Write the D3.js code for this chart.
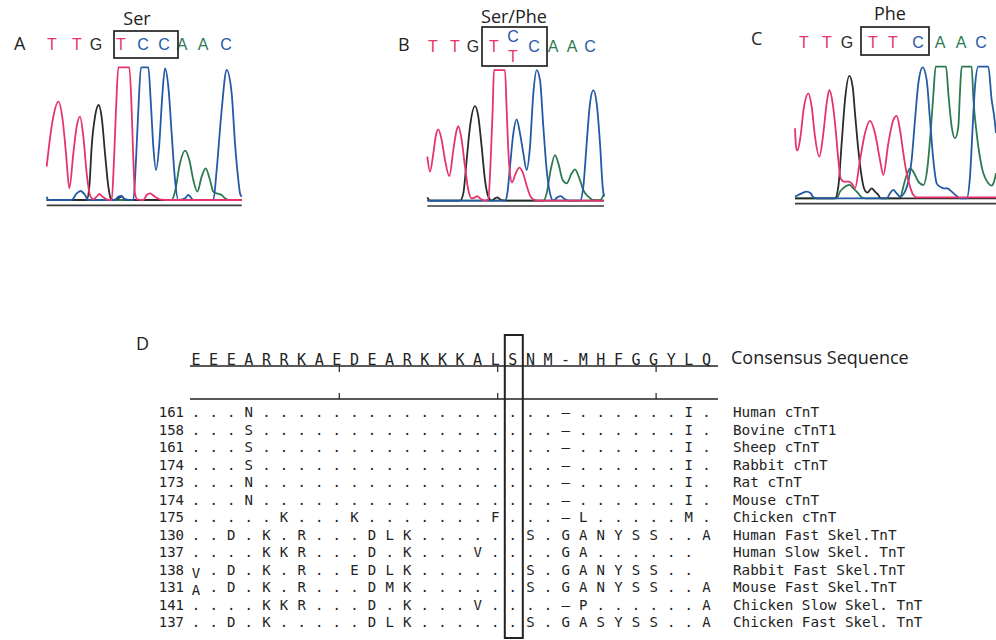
<!DOCTYPE html>
<html><head><meta charset="utf-8">
<script src="https://cdn.jsdelivr.net/npm/d3@7"></script>
<style>body{margin:0;background:#fff}</style>
</head><body>
<svg id="c" width="996" height="640"></svg>
<script>
// ---------------- DATA ----------------
const panelLabels = ["A", "B", "C", "D"];
const codonLabels = ["Ser", "Ser/Phe", "Phe"];
const baseCallsA = ["T","T","G","T","C","C","A","A","C"];
const baseScanA  = [36,111,168,243,309,372,426,489,558];
const baseCallsB = ["T","T","G","T","C/T","C","A","A","C"];
const baseScanB  = [39,105,159,222,279,342,399,456,510];
const baseCallsC = ["T","T","G","T","T","C","A","A","C"];
const baseScanC  = [42,111,171,249,309,384,450,513,573];
const boxedCalls = [3, 5];

// traces: [scan, signal]
const traceA_T = [[20,100],[28,170],[40,250],[55,295],[68,240],[78,140],[88,35],[100,140],[110,220],[120,250],[130,190],[140,80],[150,15],[160,2],[170,10],[178,18],[188,10],[200,2],[215,0],[222,120],[228,270],[235,398],[268,398],[275,270],[280,120],[285,20],[292,2],[310,0],[320,15],[330,20],[345,10],[360,2],[380,0],[605,0]];
const traceA_G = [[20,0],[140,0],[148,40],[155,160],[165,250],[176,285],[186,240],[195,140],[205,40],[212,5],[220,0],[235,5],[245,10],[255,2],[270,0],[605,0]];
const traceA_C = [[20,10],[25,0],[95,0],[110,20],[122,27],[135,15],[145,0],[225,0],[235,10],[245,12],[255,2],[280,0],[288,120],[295,270],[303,398],[325,398],[332,300],[340,160],[348,90],[358,170],[366,300],[375,395],[385,340],[395,200],[405,60],[415,0],[435,5],[445,15],[460,0],[520,0],[530,90],[545,270],[560,390],[575,320],[585,170],[595,60],[600,20],[605,10]];
const traceA_A = [[20,0],[395,0],[405,25],[420,110],[435,148],[448,120],[460,60],[472,25],[485,70],[497,95],[510,60],[520,25],[530,20],[545,15],[555,5],[565,0],[605,0]];

const traceB_T = [[22,132],[30,87],[40,142],[48,197],[55,214],[65,182],[75,122],[88,74],[100,152],[110,212],[115,224],[125,182],[135,102],[145,32],[155,7],[165,10],[172,14],[180,7],[195,0],[205,5],[212,122],[218,272],[222,392],[255,392],[260,272],[265,150],[270,80],[276,55],[287,82],[298,99],[310,80],[320,45],[332,12],[345,2],[360,0],[552,0]];
const traceB_G = [[22,10],[30,0],[120,0],[130,22],[140,122],[150,222],[165,284],[175,252],[185,162],[195,62],[205,12],[215,0],[225,7],[232,10],[240,4],[255,0],[552,0]];
const traceB_C = [[22,0],[255,0],[262,22],[270,102],[280,202],[290,244],[300,202],[310,142],[320,92],[330,162],[340,322],[350,392],[360,362],[370,222],[380,92],[390,22],[400,0],[412,10],[422,14],[435,4],[450,0],[480,0],[490,42],[500,172],[510,292],[520,332],[530,292],[540,172],[548,42],[552,12]];
const traceB_A = [[22,0],[370,0],[380,22],[392,92],[405,137],[415,112],[428,62],[440,52],[455,82],[465,94],[478,67],[490,32],[505,12],[520,2],[540,2],[552,20]];

const traceC_T = [[15,210],[18,155],[22,143],[30,175],[42,275],[55,315],[65,275],[75,185],[88,125],[100,195],[110,285],[118,325],[128,285],[138,195],[145,115],[152,60],[162,50],[175,50],[185,45],[195,30],[210,115],[225,195],[240,232],[255,195],[270,115],[280,70],[295,165],[310,235],[320,247],[330,205],[340,135],[350,75],[360,35],[370,10],[380,3],[618,3]];
const traceC_G = [[15,0],[135,0],[145,35],[155,165],[165,295],[178,367],[188,335],[195,255],[205,145],[212,85],[222,30],[232,17],[245,30],[255,20],[265,10],[272,0],[618,0]];
const traceC_C = [[15,5],[25,10],[35,15],[50,20],[62,15],[70,3],[80,0],[290,0],[300,15],[310,25],[320,15],[330,5],[345,20],[365,115],[375,235],[385,345],[398,393],[410,355],[420,235],[430,115],[440,45],[450,35],[462,30],[472,30],[485,20],[500,7],[510,0],[530,0],[540,65],[548,215],[555,335],[565,395],[595,395],[605,295],[612,250],[618,196]];
const traceC_A = [[15,0],[140,0],[150,20],[165,35],[178,40],[190,30],[205,15],[215,3],[225,0],[330,0],[340,35],[350,70],[360,90],[370,80],[385,50],[400,40],[412,90],[422,200],[430,310],[437,395],[468,395],[475,315],[485,215],[495,180],[505,215],[510,320],[515,395],[545,395],[550,300],[560,195],[575,95],[595,45],[605,38],[612,50],[618,75]];

// alignment
const consensus = "EEEARRKAEDEARKKKALSNM-MHFGGYLQ".split("");
const rowNumbers = [161,158,161,174,173,174,175,130,137,138,131,141,137];
const rowSpecies = ["Human cTnT","Bovine cTnT1","Sheep cTnT","Rabbit cTnT","Rat cTnT","Mouse cTnT","Chicken cTnT","Human Fast Skel.TnT","Human Slow Skel. TnT","Rabbit Fast Skel.TnT","Mouse Fast Skel.TnT","Chicken Slow Skel. TnT","Chicken Fast Skel. TnT"];
const rowSeqs = [
  "...N.................-......I.",
  "...S.................-......I.",
  "...S.................-......I.",
  "...S.................-......I.",
  "...N.................-......I.",
  "...N.................-......I.",
  ".....K...K.......F...-L.....M.",
  "..D.K.R...DLK......S.GANYSS..A",
  "....KKR...D.K...V....GA...... ",
  "V.D.K.R..EDLK......S.GANYSS.. ",
  "A.D.K.R...DMK......S.GANYSS..A",
  "....KKR...D.K...V....-P......A",
  "..D.K.....DLK......S.GASYSS..A"
];
const rulerTicks = [9, 18, 27];
const highlightCol = 19;

// ---------------- STYLE / LAYOUT ----------------
const baseColor = {T: "#e6336b", C: "#2459a6", G: "#2a2a2a", A: "#2c7a50"};
const svg = d3.select("#c");
const sans = "'Open Sans', 'Liberation Sans', sans-serif";
const mono = "'DejaVu Sans Mono', monospace";
const narrow = "'Liberation Sans Narrow', 'Liberation Sans', sans-serif";

const panels = [
  {label: panelLabels[0], lx: 14, ly: 50, ox: 40, base: 200, x0: 20, x1: 605, calls: baseCallsA, scans: baseScanA,
   traces: {T: traceA_T, G: traceA_G, C: traceA_C, A: traceA_A}, callY: 50, box: [-7, 14, 31, 58], codon: codonLabels[0], cx: 137, cy: 25},
  {label: panelLabels[1], lx: 398, ly: 51, ox: 420, base: 200.7, x0: 22, x1: 552, calls: baseCallsB, scans: baseScanB,
   traces: {T: traceB_T, G: traceB_G, C: traceB_C, A: traceB_A}, callY: 52, box: [-12, 13, 27, 66], codon: codonLabels[1], cx: 514, cy: 23},
  {label: panelLabels[2], lx: 751, ly: 45, ox: 790, base: 198.3, x0: 15, x1: 618, calls: baseCallsC, scans: baseScanC,
   traces: {T: traceC_T, G: traceC_G, C: traceC_C, A: traceC_A}, callY: 48, box: [-12, 11, 27, 55], codon: codonLabels[2], cx: 890, cy: 20}
];

panels.forEach(p => {
  const x = d3.scaleLinear().domain([0, 300]).range([p.ox, p.ox + 100]);
  const y = d3.scaleLinear().domain([0, 300]).range([p.base, p.base - 100]);
  const g = svg.append("g");
  g.append("text").attr("x", p.lx).attr("y", p.ly).text(p.label)
    .attr("font-family", sans).attr("font-size", 18).attr("fill", "#222");
  g.append("line").attr("x1", x(p.x0)).attr("x2", x(p.x1))
    .attr("y1", p.base + 5.3).attr("y2", p.base + 5.3)
    .attr("stroke", "#3a3a3a").attr("stroke-width", 1.7);
  const line = d3.line().x(d => x(d[0])).y(d => y(d[1])).curve(d3.curveMonotoneX);
  ["A", "G", "C", "T"].forEach(b => {
    g.append("path").attr("d", line(p.traces[b])).attr("fill", "none")
      .attr("stroke", baseColor[b]).attr("stroke-width", 1.8).attr("stroke-linejoin", "round");
  });
  p.calls.forEach((c, i) => {
    const cxp = x(p.scans[i]);
    if (c.includes("/")) {
      const [top, bot] = c.split("/");
      g.append("text").attr("x", cxp).attr("y", p.callY - 10).text(top).attr("text-anchor", "middle")
        .attr("font-family", narrow).attr("font-size", 16).attr("fill", baseColor[top]);
      g.append("text").attr("x", cxp).attr("y", p.callY + 10).text(bot).attr("text-anchor", "middle")
        .attr("font-family", narrow).attr("font-size", 16).attr("fill", baseColor[bot]);
    } else {
      g.append("text").attr("x", cxp).attr("y", p.callY).text(c).attr("text-anchor", "middle")
        .attr("font-family", narrow).attr("font-size", 16).attr("fill", baseColor[c]);
    }
  });
  const bx0 = x(p.scans[boxedCalls[0]]) + p.box[0];
  const bx1 = x(p.scans[boxedCalls[1]]) + p.box[1];
  g.append("rect").attr("x", bx0).attr("y", p.box[2]).attr("width", bx1 - bx0).attr("height", p.box[3] - p.box[2])
    .attr("fill", "none").attr("stroke", "#222").attr("stroke-width", 1.7);
  g.append("text").attr("x", p.cx).attr("y", p.cy).text(p.codon).attr("text-anchor", "middle")
    .attr("font-family", sans).attr("font-size", 18).attr("fill", "#222");
});

// ---------------- ALIGNMENT (D) ----------------
const col = d3.scalePoint().domain(d3.range(1, 31)).range([196, 706.4]);
const row = d3.scalePoint().domain(d3.range(rowSeqs.length)).range([417, 627]);
const gd = svg.append("g");
gd.append("text").attr("x", 136).attr("y", 350).text(panelLabels[3])
  .attr("font-family", sans).attr("font-size", 18).attr("fill", "#222");

const ruleTop = 366, ruleBot = 399;
gd.append("line").attr("x1", 190).attr("x2", 718).attr("y1", ruleTop).attr("y2", ruleTop).attr("stroke", "#222").attr("stroke-width", 1.4);
gd.append("line").attr("x1", 190).attr("x2", 718).attr("y1", ruleBot).attr("y2", ruleBot).attr("stroke", "#222").attr("stroke-width", 1.4);
rulerTicks.forEach(t => {
  gd.append("line").attr("x1", col(t) + 2.5).attr("x2", col(t) + 2.5).attr("y1", ruleTop).attr("y2", ruleTop + 6).attr("stroke", "#222").attr("stroke-width", 1.2);
  gd.append("line").attr("x1", col(t) + 2.5).attr("x2", col(t) + 2.5).attr("y1", ruleBot).attr("y2", ruleBot - 6).attr("stroke", "#222").attr("stroke-width", 1.2);
});
consensus.forEach((c, i) => {
  gd.append("text").attr("x", col(i + 1)).attr("y", ruleTop - 1).text(c).attr("text-anchor", "middle")
    .attr("font-family", mono).attr("font-size", 15).attr("fill", "#222");
});
gd.append("text").attr("x", 731).attr("y", 364).text("Consensus Sequence")
  .attr("font-family", sans).attr("font-size", 18).attr("fill", "#222");

rowSeqs.forEach((s, r) => {
  const yy = row(r);
  gd.append("text").attr("x", 184).attr("y", yy).text(rowNumbers[r]).attr("text-anchor", "end")
    .attr("font-family", mono).attr("font-size", 14).attr("fill", "#222");
  s.split("").forEach((c, i) => {
    if (c === " ") return;
    const shift = (i === 0 && c !== ".") ? 3 : 0;
    gd.append("text").attr("x", col(i + 1)).attr("y", yy + shift).text(c === "-" ? "\u2013" : c)
      .attr("text-anchor", "middle").attr("font-family", mono).attr("font-size", 14).attr("fill", "#222");
  });
  gd.append("text").attr("x", 733).attr("y", yy).text(rowSpecies[r])
    .attr("font-family", mono).attr("font-size", 14.3).attr("fill", "#222");
});

gd.append("rect").attr("x", col(highlightCol) - 8).attr("y", 335)
  .attr("width", 18).attr("height", 303)
  .attr("fill", "none").attr("stroke", "#222").attr("stroke-width", 2);
</script>
</body></html>
